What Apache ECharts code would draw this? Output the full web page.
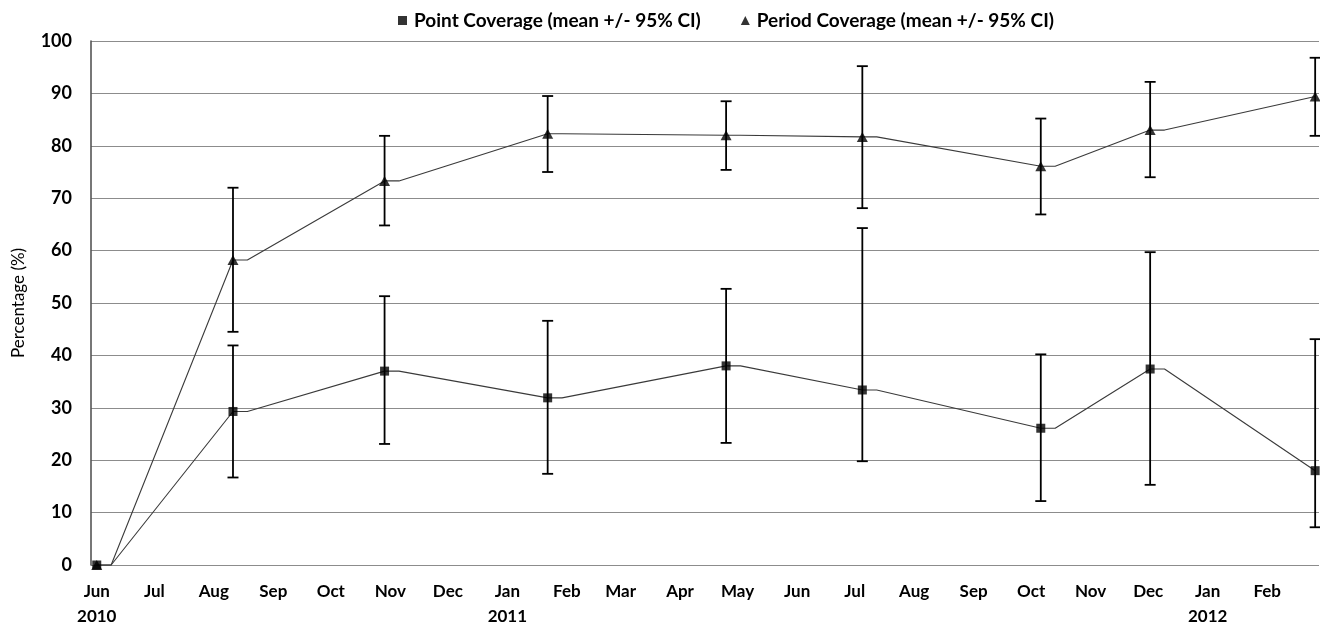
<!DOCTYPE html>
<html>
<head>
<meta charset="utf-8">
<script src="https://cdn.jsdelivr.net/npm/echarts@6/dist/echarts.min.js"></script>
<style>
html,body{margin:0;padding:0;background:#fff;}
#chart{width:1320px;height:630px;}
</style>
</head>
<body>
<div id="chart"></div>
<script>
// ---- data ----
var sampleDates = ['2010-06-01','2010-08-11','2010-10-29','2011-01-22','2011-04-25','2011-07-05','2011-10-06','2011-12-02','2012-02-26'];
var pointMean  = [0, 29.3, 37.0, 31.9, 38.0, 33.4, 26.1, 37.4, 18.0];
var pointLow   = [null, 16.7, 23.1, 17.4, 23.3, 19.8, 12.2, 15.3, 7.2];
var pointHigh  = [null, 41.9, 51.3, 46.6, 52.7, 64.3, 40.2, 59.7, 43.1];
var periodMean = [0, 58.2, 73.3, 82.3, 82.0, 81.7, 76.1, 83.0, 89.4];
var periodLow  = [null, 44.5, 64.8, 75.0, 75.4, 68.1, 66.9, 74.0, 81.9];
var periodHigh = [null, 72.0, 81.9, 89.5, 88.5, 95.2, 85.2, 92.2, 96.8];
var seriesNames = ['Point Coverage (mean +/- 95% CI)', 'Period Coverage (mean +/- 95% CI)'];
var monthNames = ['Jan','Feb','Mar','Apr','May','Jun','Jul','Aug','Sep','Oct','Nov','Dec'];
var yearLabelMonths = ['2010-06', '2011-01', '2012-01'];
var yTicks = [0, 10, 20, 30, 40, 50, 60, 70, 80, 90, 100];
var axisMinDate = '2010-05-29';
var axisMaxDate = '2012-02-28';

var FONT = 'Lato';
var DAY = 86400000;
var LINE_SHIFT = 7.5 * DAY;

function parseLocal(s){ var p = s.split('-'); return new Date(+p[0], +p[1]-1, +p[2]).getTime(); }
var times = sampleDates.map(parseLocal);

function markerData(vals){ return times.map(function(t,i){ return [t, vals[i]]; }); }
function lineData(vals){
  var out = [];
  times.forEach(function(t,i){
    out.push([t, vals[i]]);
    if (i < times.length - 1) out.push([t + LINE_SHIFT, vals[i]]);
  });
  return out;
}
function errData(lo, hi){
  var out = [];
  times.forEach(function(t,i){ if (lo[i] != null) out.push([t, lo[i], hi[i]]); });
  return out;
}
function renderErr(params, api){
  var x = api.value(0);
  var a = api.coord([x, api.value(1)]);
  var b = api.coord([x, api.value(2)]);
  var w = 5.5;
  var st = {stroke:'#000', lineWidth:1.8};
  return {type:'group', children:[
    {type:'line', shape:{x1:a[0], y1:a[1], x2:b[0], y2:b[1]}, style:st},
    {type:'line', shape:{x1:a[0]-w, y1:a[1], x2:a[0]+w, y2:a[1]}, style:st},
    {type:'line', shape:{x1:b[0]-w, y1:b[1], x2:b[0]+w, y2:b[1]}, style:st}
  ]};
}

var chart = echarts.init(document.getElementById('chart'), null, {renderer:'canvas'});
chart.setOption({
  animation:false,
  backgroundColor:'#fff',
  textStyle:{fontFamily:FONT},
  legend:{
    top:6, left:393,
    itemWidth:9, itemHeight:9, itemGap:40,
    textStyle:{fontFamily:FONT, fontSize:19, fontWeight:'bold', color:'#000', padding:[0,0,0,2]},
    data:[{name:seriesNames[0], icon:'rect'}, {name:seriesNames[1], icon:'triangle'}]
  },
  grid:{left:91, right:1, top:41, bottom:65, outerBoundsMode:'none'},
  xAxis:{
    type:'time',
    min:parseLocal(axisMinDate), max:parseLocal(axisMaxDate),
    splitNumber:21, minInterval:28*DAY, maxInterval:31*DAY,
    axisLine:{show:false}, axisTick:{show:false}, splitLine:{show:false},
    axisLabel:{
      fontFamily:FONT, fontSize:17, fontWeight:'bold', color:'#000', margin:14, lineHeight:25,
      showMinLabel:true, showMaxLabel:true, hideOverlap:false,
      formatter:function(v){
        var d = new Date(v);
        if (d.getDate() !== 1) return '';
        var m = monthNames[d.getMonth()];
        var key = d.getFullYear() + '-' + ('0' + (d.getMonth()+1)).slice(-2);
        if (yearLabelMonths.indexOf(key) >= 0) return m + '\n' + d.getFullYear();
        return m;
      }
    }
  },
  yAxis:{
    type:'value', min:yTicks[0], max:yTicks[yTicks.length-1], interval:yTicks[1]-yTicks[0],
    name:'Percentage (%)', nameLocation:'middle', nameGap:64,
    nameTextStyle:{fontFamily:FONT, fontSize:17, color:'#000'},
    axisLine:{show:true, lineStyle:{color:'#555', width:1.6}},
    axisTick:{show:false},
    axisLabel:{fontFamily:FONT, fontSize:18, fontWeight:'bold', color:'#000', margin:19},
    splitLine:{show:true, lineStyle:{color:'#8c8c8c', width:1}}
  },
  series:[
    {name:'pointLine', type:'line', data:lineData(pointMean), showSymbol:false, symbol:'none', clip:false,
     lineStyle:{color:'#3a3a3a', width:1.1}, z:2, silent:true},
    {name:'periodLine', type:'line', data:lineData(periodMean), showSymbol:false, symbol:'none', clip:false,
     lineStyle:{color:'#3a3a3a', width:1.1}, z:2, silent:true},
    {name:'pointErr', type:'custom', data:errData(pointLow, pointHigh), renderItem:renderErr, encode:{x:0, y:[1,2]}, clip:false, z:3},
    {name:'periodErr', type:'custom', data:errData(periodLow, periodHigh), renderItem:renderErr, encode:{x:0, y:[1,2]}, clip:false, z:3},
    {name:seriesNames[0], type:'scatter', data:markerData(pointMean), symbol:'rect', symbolSize:9,
     itemStyle:{color:'#000'}, z:5, clip:false},
    {name:seriesNames[1], type:'scatter', data:markerData(periodMean), symbol:'triangle', symbolSize:[11,10],
     itemStyle:{color:'#000'}, z:4, clip:false}
  ]
});
</script>
</body>
</html>
